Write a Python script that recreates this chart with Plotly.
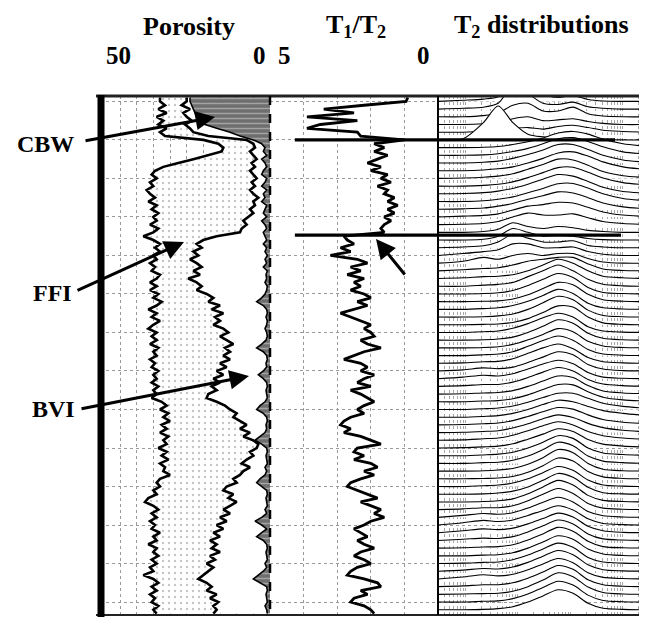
import math
import plotly.graph_objects as go

W, H = 647, 617


def px(x):
    return x / W


def py(y):
    return 1 - y / H


# ---------------- data (depth index, 1 unit per sample) ----------------
# total porosity (p.u.)
tpor = [33, 33, 31.5, 33.5, 31, 34, 32, 33.5, 31, 33,
        31.5, 20, 15.5, 14, 14.5, 18.5, 23, 27.5, 32, 34.5,
        35.5, 34, 36, 35, 37, 36, 34.5, 36.5, 34, 35.5,
        33.5, 35, 34, 36, 33.5, 35, 38, 35, 33, 34.5,
        33, 35, 34, 36, 34.5, 35.5, 33, 34, 36, 34,
        36, 33.5, 35, 32.5, 34, 36.5, 34, 35.5, 33, 35,
        36.5, 34, 35.5, 34, 36, 33.5, 35, 34, 36, 34.5,
        35.5, 33.5, 35, 34, 35.5, 33.5, 35, 34, 35.5, 32.5,
        31, 33, 30.5, 32, 30, 32.5, 31, 33, 30.5, 32,
        31, 33.5, 31, 32.5, 30.5, 33, 31.5, 32, 30, 33,
        34, 33, 35, 34, 36.5, 37.5, 35, 33.5, 35.5, 34,
        36, 34.5, 35.5, 33, 35, 34, 36.5, 34, 35, 33.5,
        35.5, 34, 36, 35, 38, 35, 33.5, 35.5, 34, 36,
        34.5, 35.5, 33.5, 35, 34]
# BVI + CBW boundary (p.u.)
bvi_cbw = [25, 25, 26.5, 24, 26, 25, 23.5, 25.5, 24, 23,
           18.5, 7, 5, 4.5, 6, 5, 4, 5.5, 4.5, 6,
           5, 4, 5.5, 4.5, 6, 5, 3.5, 5, 4.5, 6,
           5, 6.5, 8, 7, 8.5, 9, 16, 20, 22, 20.5,
           23, 21.5, 24, 22, 20.5, 23, 21, 24.5, 22, 20.5,
           22, 19, 17, 18.5, 15, 17.5, 14, 16.5, 15, 17,
           14, 12.5, 15, 13, 11, 13.5, 12, 14, 12, 15,
           13, 16, 14, 17, 15, 17.5, 16, 18.5, 19, 16,
           13.5, 12, 10, 11, 9, 7, 9, 6, 8, 5,
           3.5, 4, 6, 5, 7, 8.5, 6, 8, 9, 11,
           10, 13, 14, 11, 12.5, 10, 12, 14, 12, 15,
           13, 16, 14, 17, 15, 18, 16, 17.5, 15, 18,
           16.5, 19, 17, 18.5, 20, 21.5, 19, 17.5, 19, 16,
           18, 15.5, 17, 16, 17]
# clay bound water (p.u.)
cbw = [24, 24, 23.5, 23, 22.5, 22, 21, 19.5, 16, 12,
       9, 5, 2.5, 1.5, 2, 1, 2.5, 1.5, 1, 2,
       2.5, 1, 1.5, 2.5, 1, 2, 1.5, 2.5, 1, 1.5,
       2, 1, 2.5, 1.5, 1, 2, 1.5, 1, 2, 1,
       1.5, 0.8, 1.5, 1, 2, 0.8, 1.2, 1, 1.5, 0.8,
       1, 1.5, 2.5, 4, 2, 1, 0.8, 1.2, 0.8, 1,
       1.5, 1, 0.8, 1.2, 2.5, 4, 2, 1, 0.8, 1.2,
       1, 2, 3.5, 2, 1, 0.8, 1.2, 1, 0.8, 1.5,
       3, 4, 2, 1, 0.8, 1.2, 1, 1.5, 3, 4.5,
       2.5, 1, 0.8, 1.2, 1, 0.8, 1.5, 1, 1.5, 3,
       4, 2.5, 1, 0.8, 1.2, 1, 0.8, 1.5, 1, 2.5,
       4.5, 2.5, 1, 2.5, 4, 2, 1, 0.8, 1.2, 1,
       0.8, 1.5, 1, 2, 3.5, 5, 3, 1, 0.8, 1.2,
       1, 0.8, 1.5, 1, 0.8]
# T1/T2 ratio
t1t2 = [0.9, 0.95, 2.2, 3.4, 2.5, 3.9, 2.4, 3.5, 3.9, 2.4,
        2.3, 1.0, 1.9, 1.6, 1.9, 1.5, 1.8, 2.1, 1.7, 2.0,
        1.5, 1.7, 1.4, 1.8, 1.5, 1.6, 1.3, 1.5, 1.2, 1.5,
        1.3, 1.6, 1.4, 1.6, 1.7, 1.6, 2.8, 2.7, 2.5, 2.9,
        2.6, 3.2, 2.4, 2.1, 2.6, 2.3, 2.7, 2.2, 2.5, 2.3,
        2.6, 2.2, 2.0, 2.4, 2.1, 2.5, 2.9, 2.6, 2.3, 2.0,
        2.2, 2.0, 1.9, 2.3, 2.1, 1.7, 2.2, 2.5, 2.8, 2.3,
        2.1, 2.3, 1.9, 2.2, 2.4, 2.0, 2.6, 2.3, 2.1, 1.9,
        2.2, 2.4, 2.2, 2.6, 2.8, 2.9, 2.6, 2.8, 2.3, 2.0,
        1.7, 2.4, 2.5, 2.2, 2.5, 2.0, 1.8, 2.2, 1.9, 2.3,
        2.6, 2.7, 2.4, 2.1, 1.8, 2.3, 2.0, 1.7, 1.9, 1.6,
        2.0, 2.2, 2.5, 2.3, 2.1, 2.4, 2.2, 1.9, 2.3, 2.5,
        2.2, 2.0, 2.4, 2.6, 2.7, 2.2, 1.8, 1.7, 2.3, 2.1,
        2.5, 2.6, 2.2, 2.0, 1.9]
assert len(tpor) == len(bvi_cbw) == len(cbw) == len(t1t2)
depth_start = -1
depth = [depth_start + i for i in range(len(tpor))]

# T2 distributions: bins (ms) and one amplitude row per depth station
t2_bins = [0.3, 0.9, 2.2, 4.2, 8, 15.5, 30, 58, 112, 216, 417, 1000, 3000]
t2_depths = list(range(0, 134, 2))
t2_amp = [
    [0, 0.3, 0.6, 1.2, 4.5, 5.0, 2.0, 1.0, 1.5, 0.5, 0.1, 0, 0],
    [0, 0.2, 0.5, 1.5, 6.0, 4.0, 1.5, 1.2, 1.8, 0.6, 0.2, 0, 0],
    [0, 0, 0.3, 1.0, 3.0, 3.5, 1.5, 1.5, 2.5, 0.8, 0.2, 0, 0],
    [0, 0, 0.2, 0.5, 1.5, 2.0, 1.0, 1.2, 1.5, 0.8, 0.3, 0, 0],
    [0, 0, 0.3, 0.8, 1.0, 1.2, 0.8, 1.5, 1.8, 1.2, 0.5, 0.2, 0],
    [0, 0.3, 4.5, 8.8, 4.5, 1.5, 0.8, 0.6, 0.5, 0.3, 0.1, 0, 0],
    [0, 0, 0.1, 0.3, 0.8, 1.5, 2.5, 3.8, 4.2, 3.5, 2.2, 1.0, 0.3],
    [0, 0, 0.1, 0.4, 1.0, 1.8, 3.0, 4.3, 4.6, 3.6, 2.2, 0.9, 0.3],
    [0, 0, 0.2, 0.5, 1.2, 2.2, 3.4, 4.8, 4.8, 3.5, 2.0, 0.8, 0.2],
    [0, 0, 0.2, 0.5, 1.0, 2.0, 3.2, 4.6, 4.9, 3.8, 2.3, 1.0, 0.3],
    [0, 0.1, 0.3, 0.6, 1.2, 2.4, 3.6, 5.0, 4.8, 3.4, 1.8, 0.7, 0.2],
    [0, 0, 0.2, 0.5, 1.1, 2.2, 3.5, 4.8, 4.9, 3.6, 2.1, 0.9, 0.3],
    [0, 0.1, 0.3, 0.7, 1.4, 2.5, 3.8, 5.0, 4.6, 3.2, 1.7, 0.6, 0.2],
    [0, 0, 0.2, 0.6, 1.2, 2.3, 3.4, 4.6, 4.7, 3.5, 2.0, 0.8, 0.2],
    [0, 0.1, 0.3, 0.8, 1.5, 2.6, 3.5, 4.5, 4.2, 3.0, 1.6, 0.6, 0.1],
    [0, 0.2, 0.4, 0.8, 1.8, 2.8, 3.2, 3.8, 3.6, 2.5, 1.3, 0.5, 0.1],
    [0, 0.1, 0.3, 0.8, 2.0, 3.0, 2.5, 2.5, 2.8, 1.8, 0.8, 0.3, 0],
    [0, 0, 0.2, 0.8, 2.5, 1.5, 1.0, 1.5, 1.2, 0.5, 0.2, 0, 0],
    [0, 0, 0.2, 1.0, 3.0, 2.0, 1.0, 1.2, 1.0, 0.4, 0.1, 0, 0],
    [0, 0.2, 0.5, 1.5, 3.5, 2.5, 1.5, 1.5, 1.8, 0.6, 0.2, 0, 0],
    [0, 0.5, 1.0, 1.5, 3.0, 3.0, 2.0, 2.0, 2.2, 1.0, 0.3, 0, 0],
    [0, 0.5, 1.5, 1.0, 2.0, 2.5, 2.0, 2.5, 2.5, 1.2, 0.3, 0, 0],
    [0, 0.3, 0.6, 0.8, 1.5, 2.5, 3.0, 3.5, 3.5, 1.8, 0.5, 0.1, 0],
    [0, 0.2, 0.5, 0.6, 1.0, 2.0, 3.5, 5.0, 4.0, 2.0, 0.6, 0.2, 0],
    [0, 0, 0.3, 0.5, 1.0, 2.5, 4.0, 5.5, 4.0, 1.8, 0.5, 0.1, 0],
    [0, 0, 0.1, 0.3, 0.9, 2.2, 3.8, 5.3, 4.3, 1.7, 0.4, 0.1, 0],
    [0, 0, 0.1, 0.2, 0.7, 1.8, 3.4, 5.0, 4.4, 1.9, 0.5, 0.1, 0],
    [0, 0, 0.2, 0.4, 1.0, 2.1, 3.6, 5.2, 4.1, 1.6, 0.4, 0.1, 0],
    [0, 0, 0.1, 0.3, 0.8, 2.0, 3.7, 5.4, 4.5, 1.8, 0.4, 0.1, 0],
    [0, 0, 0.1, 0.2, 0.6, 1.6, 3.2, 4.9, 4.6, 2.0, 0.5, 0.1, 0],
    [0, 0, 0.2, 0.4, 1.1, 2.3, 3.8, 5.0, 4.0, 1.5, 0.4, 0.1, 0],
    [0, 0, 0.1, 0.3, 0.8, 2.0, 3.6, 5.3, 4.4, 1.8, 0.5, 0.1, 0],
    [0, 0, 0.1, 0.3, 0.9, 2.1, 3.5, 5.0, 4.2, 1.7, 0.5, 0.1, 0],
    [0, 0, 0.2, 0.4, 1.0, 2.4, 3.9, 5.1, 4.0, 1.6, 0.4, 0.1, 0],
    [0, 0.1, 0.4, 0.5, 1.2, 2.6, 4.0, 5.0, 3.8, 1.5, 0.4, 0.1, 0],
    [0, 0.3, 0.8, 0.6, 1.0, 2.2, 3.6, 5.0, 4.2, 1.7, 0.5, 0.1, 0],
    [0, 0.4, 0.9, 0.7, 1.3, 2.5, 3.8, 4.8, 3.9, 1.6, 0.4, 0.1, 0],
    [0, 0.2, 0.5, 0.5, 1.1, 2.3, 3.7, 4.9, 4.0, 1.8, 0.6, 0.2, 0],
    [0, 0.1, 0.3, 0.4, 0.9, 2.0, 3.4, 4.7, 4.3, 2.2, 0.8, 0.3, 0.1],
    [0, 0, 0.2, 0.3, 0.8, 1.8, 3.2, 4.5, 4.4, 2.6, 1.2, 0.5, 0.2],
    [0, 0, 0.2, 0.4, 0.9, 1.9, 3.1, 4.2, 4.2, 2.9, 1.6, 0.8, 0.3],
    [0, 0, 0.2, 0.4, 1.0, 2.0, 3.3, 4.4, 4.0, 2.8, 1.7, 1.0, 0.4],
    [0, 0.1, 0.3, 0.5, 1.1, 2.2, 3.4, 4.5, 4.1, 2.6, 1.4, 0.7, 0.3],
    [0, 0.1, 0.3, 0.5, 1.2, 2.3, 3.6, 4.6, 3.9, 2.4, 1.3, 0.6, 0.2],
    [0, 0.1, 0.4, 0.6, 1.3, 2.5, 3.8, 4.8, 4.0, 2.3, 1.2, 0.6, 0.2],
    [0, 0.1, 0.3, 0.5, 1.1, 2.3, 3.6, 5.0, 4.3, 2.2, 1.0, 0.5, 0.2],
    [0, 0, 0.2, 0.4, 0.9, 2.0, 3.5, 5.2, 4.5, 2.0, 0.7, 0.3, 0.1],
    [0, 0, 0.2, 0.3, 0.8, 1.9, 3.6, 5.5, 4.6, 1.9, 0.6, 0.2, 0],
    [0, 0, 0.1, 0.3, 0.7, 1.8, 3.5, 5.6, 4.8, 2.0, 0.5, 0.1, 0],
    [0, 0, 0.1, 0.2, 0.6, 1.7, 3.4, 5.4, 4.6, 1.9, 0.5, 0.1, 0],
    [0, 0, 0.2, 0.4, 0.9, 2.0, 3.6, 5.2, 4.2, 1.7, 0.4, 0.1, 0],
    [0, 0, 0.1, 0.3, 0.8, 1.9, 3.6, 5.4, 4.4, 1.8, 0.4, 0.1, 0],
    [0, 0, 0.1, 0.3, 0.8, 2.1, 3.9, 5.6, 4.4, 1.7, 0.4, 0.1, 0],
    [0, 0.2, 0.5, 0.5, 1.0, 2.3, 4.0, 5.5, 4.2, 1.6, 0.4, 0.1, 0],
    [0, 0.5, 1.0, 0.8, 1.2, 2.4, 3.9, 5.2, 4.0, 1.5, 0.4, 0.1, 0],
    [0, 0.6, 1.2, 0.9, 1.3, 2.5, 3.8, 5.0, 3.9, 1.6, 0.4, 0.1, 0],
    [0, 0.5, 1.0, 0.8, 1.2, 2.3, 3.7, 5.1, 4.1, 1.7, 0.5, 0.1, 0],
    [0, 0.3, 0.6, 0.5, 1.0, 2.2, 3.8, 5.3, 4.3, 1.7, 0.4, 0.1, 0],
    [0, 0.1, 0.3, 0.4, 0.9, 2.1, 3.7, 5.4, 4.4, 1.8, 0.4, 0.1, 0],
    [0, 0, 0.2, 0.3, 0.8, 2.0, 3.6, 5.2, 4.3, 1.8, 0.5, 0.1, 0],
    [0, 0.1, 0.3, 0.4, 1.0, 2.2, 3.8, 5.3, 4.2, 1.6, 0.4, 0.1, 0],
    [0, 0.3, 0.7, 0.6, 1.1, 2.3, 3.9, 5.4, 4.3, 1.7, 0.4, 0.1, 0],
    [0, 0.5, 1.1, 0.8, 1.2, 2.4, 3.9, 5.3, 4.2, 1.6, 0.4, 0.1, 0],
    [0, 0.2, 0.5, 0.5, 1.0, 2.2, 3.8, 5.5, 4.5, 1.8, 0.5, 0.1, 0],
    [0, 0.1, 0.2, 0.3, 0.8, 2.0, 3.7, 5.6, 4.6, 1.9, 0.5, 0.1, 0],
    [0, 0, 0.2, 0.3, 0.9, 2.1, 3.8, 5.4, 4.4, 1.8, 0.4, 0.1, 0],
    [0, 0, 0.1, 0.3, 0.8, 2.0, 3.6, 5.2, 4.3, 1.7, 0.4, 0.1, 0],
]
assert len(t2_amp) == len(t2_depths)

# zone markers
zone_depths = [10, 34.7]
zone_t1t2_start = 4.26
zone_t2_end = [706, 918]

# tick labels and titles
track_titles = ["Porosity", "T<sub>1</sub>/T<sub>2</sub>", "T<sub>2</sub> distributions"]
scale_labels = ["50", "0", "5", "0"]
curve_labels = ["CBW", "FFI", "BVI"]

FONT = "Liberation Serif"

fig = go.Figure()

# ---------------- Porosity track ----------------
fig.add_trace(go.Scatter(
    x=cbw, y=depth, xaxis="x", yaxis="y", mode="lines",
    line=dict(color="black", width=1.6), fill="tozerox", fillcolor="#6e6e6e",
    fillpattern=dict(shape="-", bgcolor="#6e6e6e", fgcolor="#d8d8d8", size=5, solidity=0.3)))
fig.add_trace(go.Scatter(
    x=bvi_cbw, y=depth, xaxis="x", yaxis="y", mode="lines",
    line=dict(color="black", width=2.6), fill="tonextx", fillcolor="white"))
fig.add_trace(go.Scatter(
    x=tpor, y=depth, xaxis="x", yaxis="y", mode="lines",
    line=dict(color="black", width=2.6), fill="tonextx", fillcolor="white",
    fillpattern=dict(shape=".", bgcolor="white", fgcolor="#8a8a8a", size=6, solidity=0.12)))

# ---------------- T1/T2 track ----------------
fig.add_trace(go.Scatter(
    x=t1t2, y=depth, xaxis="x2", yaxis="y", mode="lines",
    line=dict(color="black", width=2.8)))

# ---------------- T2 distributions ----------------
for d, amps in zip(t2_depths, t2_amp):
    fig.add_trace(go.Scatter(
        x=t2_bins, y=[d] * len(t2_bins), xaxis="x3", yaxis="y", mode="lines",
        line=dict(width=0, color="rgba(0,0,0,0)"), hoverinfo="skip"))
    fig.add_trace(go.Scatter(
        x=t2_bins, y=[d - a for a in amps], xaxis="x3", yaxis="y", mode="lines",
        line=dict(color="black", width=1.1, shape="spline", smoothing=0.8),
        fill="tonexty", fillcolor="white"))

# zone lines
for zd, zend in zip(zone_depths, zone_t2_end):
    fig.add_trace(go.Scatter(x=[zone_t1t2_start, 0], y=[zd, zd], xaxis="x2", yaxis="y",
                             mode="lines", line=dict(color="black", width=3.2)))
    fig.add_trace(go.Scatter(x=[t2_bins[0], zend], y=[zd, zd], xaxis="x3", yaxis="y",
                             mode="lines", line=dict(color="black", width=3.2)))

grid = dict(showgrid=True, gridcolor="#9a9a9a", griddash="dot", gridwidth=1,
            showticklabels=False, zeroline=False, ticks="", showline=False)

fig.update_layout(
    width=W, height=H, margin=dict(l=0, r=0, t=0, b=0),
    paper_bgcolor="white", plot_bgcolor="white", showlegend=False,
    xaxis=dict(domain=[px(92), px(262)], range=[51, 0], dtick=5, tick0=0, anchor="y", **grid),
    xaxis2=dict(domain=[px(262), px(430)], range=[5, 0], dtick=1, tick0=0, anchor="y", **grid),
    xaxis3=dict(domain=[px(430), px(640)], type="log",
                range=[math.log10(t2_bins[0]), math.log10(t2_bins[-1])],
                dtick="D1", anchor="y",
                **{**grid, "gridcolor": "#a8a8a8"}),
    yaxis=dict(domain=[py(606), py(88)], range=[133.1, -1.4], dtick=10, tick0=0,
               anchor="x", **grid),
)

# frame
shapes = [
    dict(type="line", x0=px(88), x1=px(641), y0=py(88), y1=py(88), line=dict(color="#222", width=3)),
    dict(type="line", x0=px(88), x1=px(641), y0=py(607), y1=py(607), line=dict(color="#222", width=2)),
    dict(type="line", x0=px(88), x1=px(641), y0=py(612), y1=py(612), line=dict(color="#bbb", width=3, dash="dot")),
    dict(type="line", x0=px(93), x1=px(93), y0=py(87), y1=py(609), line=dict(color="black", width=7)),
    dict(type="line", x0=px(262), x1=px(262), y0=py(88), y1=py(607), line=dict(color="black", width=2.5, dash="dash")),
    dict(type="line", x0=px(430), x1=px(430), y0=py(88), y1=py(607), line=dict(color="black", width=2)),
]
for s in shapes:
    s.update(xref="paper", yref="paper")
fig.update_layout(shapes=shapes)

ann = []
for t, xc in zip(track_titles, [181, 348, 533]):
    ann.append(dict(text=t, x=px(xc), y=py(18), xref="paper", yref="paper", showarrow=False,
                    xanchor="center", yanchor="middle",
                    font=dict(family=FONT, size=26, color="black", weight="bold")))
for t, xc in zip(scale_labels, [110, 251, 276, 415]):
    ann.append(dict(text=t, x=px(xc), y=py(48), xref="paper", yref="paper", showarrow=False,
                    xanchor="center", yanchor="middle",
                    font=dict(family=FONT, size=25, color="black", weight="bold")))
for t, (xc, yc) in zip(curve_labels, [(37, 136), (44, 285), (45, 401)]):
    ann.append(dict(text=t, x=px(xc), y=py(yc), xref="paper", yref="paper", showarrow=False,
                    xanchor="center", yanchor="middle",
                    font=dict(family=FONT, size=24, color="black", weight="bold")))
# arrows (tip, tail) in pixels
arrows = [((207, 109), (76, 133)), ((176, 234), (68, 283)), ((241, 368), (72, 401)),
          ((368, 231), (398, 268))]
for (tx, ty), (sx, sy) in arrows:
    ann.append(dict(text="", x=px(tx), y=py(ty), xref="paper", yref="paper",
                    ax=sx - tx, ay=sy - ty, showarrow=True, arrowhead=2, arrowsize=1.3,
                    arrowwidth=3, arrowcolor="black"))
fig.update_layout(annotations=ann)

fig.write_html("out.html")
